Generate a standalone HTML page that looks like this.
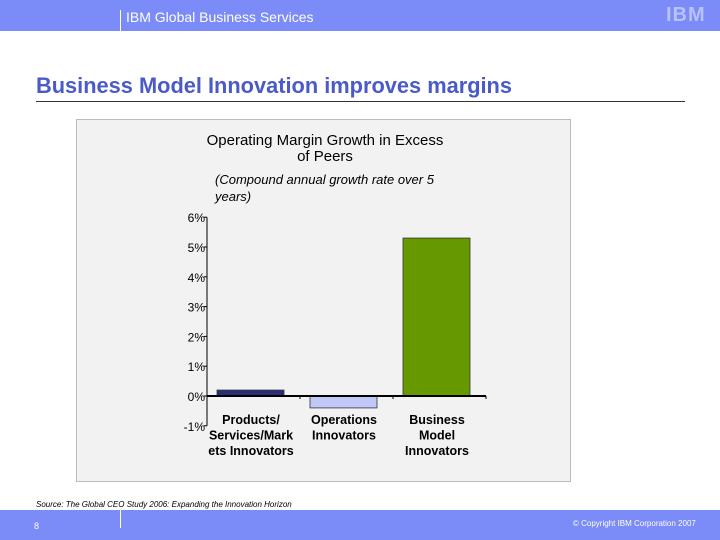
<!DOCTYPE html>
<html><head><meta charset="utf-8"><style>
body{margin:0;width:720px;height:540px;position:relative;background:#fff;font-family:"Liberation Sans",sans-serif;overflow:hidden}
.a{position:absolute}
</style></head><body>
<div class="a" style="left:0;top:0;width:720px;height:31px;background:#7b8bf7"></div>
<div class="a" style="left:120px;top:10px;width:1px;height:21px;background:#fff"></div>
<div class="a" style="left:126px;top:9px;font-size:14px;color:#fff">IBM Global Business Services</div>
<div class="a" style="left:666px;top:4px;font-size:20px;font-weight:bold;color:#b8c2fb;letter-spacing:1px">IBM</div>
<div class="a" style="left:36px;top:73px;font-size:21.8px;font-weight:bold;color:#4a5bc8">Business Model Innovation improves margins</div>
<div class="a" style="left:36px;top:101px;width:649px;height:1px;background:#333"></div>
<div class="a" style="left:76px;top:119px;width:493px;height:361px;background:#f2f2f2;border:1px solid #bbb"></div>
<svg class="a" style="left:0;top:0" width="720" height="540">
<text x="325" y="145" text-anchor="middle" font-size="15" font-family="Liberation Sans">Operating Margin Growth in Excess</text>
<text x="325" y="161" text-anchor="middle" font-size="15" font-family="Liberation Sans">of Peers</text>
<text x="215" y="184" font-size="13" font-style="italic" font-family="Liberation Sans">(Compound annual growth rate over 5</text>
<text x="215" y="201" font-size="13" font-style="italic" font-family="Liberation Sans">years)</text>
<g id="g"></g>
</svg>
<div class="a" style="left:36px;top:500px;font-size:8px;font-style:italic">Source: The Global CEO Study 2006: Expanding the Innovation Horizon</div>
<div class="a" style="left:0;top:510px;width:720px;height:30px;background:#7b8bf7"></div>
<div class="a" style="left:120px;top:510px;width:1px;height:18px;background:#fff"></div>
<div class="a" style="left:34px;top:521px;font-size:9px;color:#fff">8</div>
<div class="a" style="left:573px;top:519px;font-size:8px;color:#fff">© Copyright IBM Corporation 2007</div>
<script>
const categories=[["Products/","Services/Mark","ets Innovators"],["Operations","Innovators"],["Business","Model","Innovators"]];
const values=[0.2,-0.4,5.3];
const ticks=[-1,0,1,2,3,4,5,6];
const colors=["#2b2d7a","#c0c8f8","#669900"];
const NS="http://www.w3.org/2000/svg",g=document.getElementById('g');
const y=v=>396-v*29.8, x0=207, step=93;
function mk(t,a){const e=document.createElementNS(NS,t);for(const k in a)e.setAttribute(k,a[k]);g.appendChild(e);return e;}
let e=mk('line',{x1:x0,x2:x0,y1:y(6),y2:y(-1),stroke:'#000'});


ticks.forEach(t=>{
 let l=mk('line',{x1:x0-3,x2:x0,y1:y(t),y2:y(t),stroke:'#000'});
 
 
 let tx=mk('text',{x:x0-2,y:y(t)+5,'text-anchor':'end','font-size':12,'font-family':'Liberation Sans'});
 tx.textContent=t+'%';
 
 
});
values.forEach((v,i)=>{
 const bx=x0+10+i*step;
 let r=mk('rect',{x:bx,y:Math.min(y(v),y(0)),width:67,height:Math.abs(y(v)-y(0)),fill:colors[i],stroke:'#333','stroke-width':0.8});
 
 
 categories[i].forEach((s,j)=>{
  let tx=mk('text',{x:bx+34,y:424+j*15.5,'text-anchor':'middle','font-size':12.5,'font-weight':'bold','font-family':'Liberation Sans'});
  tx.textContent=s;
  
  
 });
});
e=mk('line',{x1:x0,x2:x0+3*step,y1:y(0),y2:y(0),stroke:'#000','stroke-width':2});


for(let i=1;i<=3;i++){let l=mk('line',{x1:x0+i*step,x2:x0+i*step,y1:y(0),y2:y(0)+3,stroke:'#000'});
 
 }
</script>
</body></html>
